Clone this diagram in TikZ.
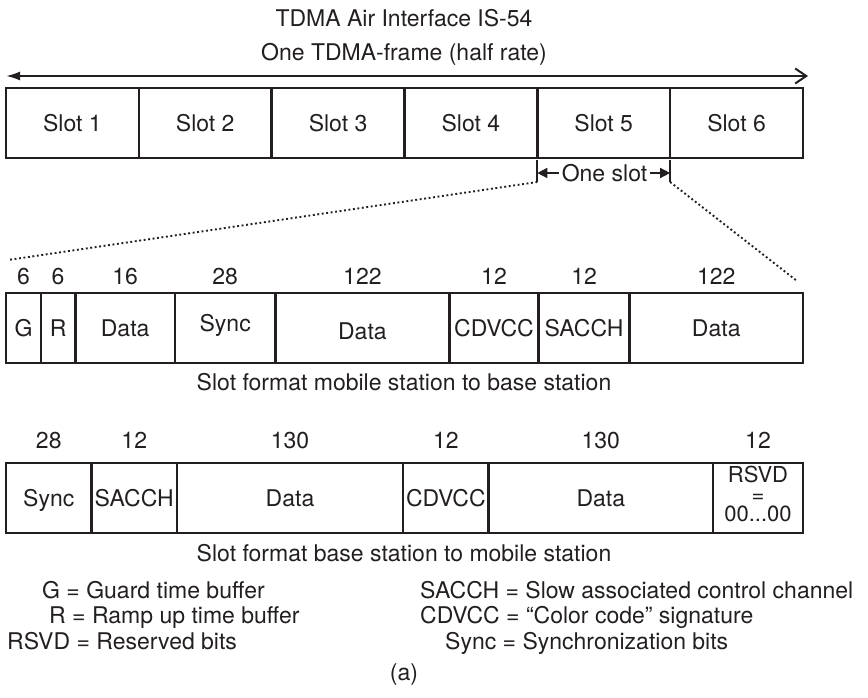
\documentclass[tikz,border=0pt]{standalone}
\usepackage{fontspec}
\setmainfont{TeX Gyre Heros}
\usetikzlibrary{arrows.meta, positioning}
\definecolor{ink}{RGB}{35,31,32}

\begin{document}
\begin{tikzpicture}[x=1pt, y=-1pt, >=Latex,
    every node/.style={font=\fontsize{23}{21.5}\selectfont, text=ink},
    txt/.style={inner sep=0pt, text height=16.5pt, text depth=0pt},
    cell/.style={draw=ink, line width=2.6pt, inner sep=0pt, outer sep=0pt, minimum height=70pt},
    bitbox/.style={cell, txt},
    zoomline/.style={ink, line width=1.9pt, dash pattern=on 1.9pt off 2.6pt}]
    \useasboundingbox (0,0) rectangle (868,698);
    \def\slotw{132.83pt}
    % titles
    \node[txt] (title) at (404,18) {TDMA Air Interface IS-54};
    \node[txt] (framelbl) at (404,52) {One TDMA-frame (half rate)};
    \coordinate (frameL) at (6,76);
    \coordinate (frameR) at (808,76);
    \draw[{Latex[length=14pt,width=9pt]}-{Straight Barb[length=11pt,width=15pt]}, ink, line width=2pt] (frameL) -- (frameR);
    % the six slots of the frame
    \node[bitbox, minimum width=\slotw, anchor=north west] (s1) at (6,88) {Slot 1};
    \node[bitbox, minimum width=\slotw, right=0pt of s1] (s2) {Slot 2};
    \node[bitbox, minimum width=\slotw, right=0pt of s2] (s3) {Slot 3};
    \node[bitbox, minimum width=\slotw, right=0pt of s3] (s4) {Slot 4};
    \node[bitbox, minimum width=\slotw, right=0pt of s4] (s5) {Slot 5};
    \node[bitbox, minimum width=\slotw, right=0pt of s5] (s6) {Slot 6};
    % one slot marker
    \coordinate (tickA) at ([yshift=-24pt]s5.south west);
    \coordinate (tickB) at ([yshift=-24pt]s6.south west);
    \draw[ink, line width=2pt] ([yshift=-2pt]s5.south west) -- (tickA);
    \draw[ink, line width=2pt] ([yshift=-2pt]s6.south west) -- (tickB);
    \node[txt] (oneslot) at (604.5,173) {One slot};
    \draw[-{Triangle[length=10pt,width=10pt]}, ink, line width=1.5pt, shorten <=3pt] (oneslot.west) -- (oneslot.west -| s5.south west);
    \draw[-{Triangle[length=10pt,width=10pt]}, ink, line width=1.5pt, shorten <=3pt] (oneslot.east) -- (oneslot.east -| s6.south west);
    % zoom lines
    \coordinate (zoomL) at (8,260);
    \coordinate (zoomR) at (797,281);
    \draw[zoomline] (tickA) -- (zoomL);
    \draw[zoomline] (tickB) -- (zoomR);
    % mobile station to base station
    \node[bitbox, minimum width=34.9pt, anchor=north west] (ug) at (6,293) {G};
    \node[bitbox, minimum width=34.4pt, right=0pt of ug] (ur) {R};
    \node[bitbox, minimum width=99.7pt, right=0pt of ur] (udata1) {Data};
    \node[bitbox, minimum width=100.4pt, right=0pt of udata1] (usync) {\raisebox{5pt}{Sync}};
    \node[bitbox, minimum width=174pt, right=0pt of usync] (udata2) {\raisebox{-3pt}{Data}\hspace{44pt}};
    \node[bitbox, minimum width=89.2pt, right=0pt of udata2] (ucdvcc) {CDVCC};
    \node[bitbox, minimum width=90.9pt, right=0pt of ucdvcc] (usacch) {SACCH};
    \node[bitbox, minimum width=173.5pt, right=0pt of usacch] (udata3) {Data};
    % bit counts
    \node[txt, above=8pt of ug] (nug) {6};
    \node[txt, above=8pt of ur] (nur) {6};
    \node[txt, above=8pt of udata1] (nudata1) {16};
    \node[txt, above=8pt of usync] (nusync) {28};
    \node[txt, above=8pt of udata2] (nudata2) {122};
    \node[txt, above=8pt of ucdvcc] (nucdvcc) {12};
    \node[txt, above=8pt of usacch] (nusacch) {12};
    \node[txt, above=8pt of udata3] (nudata3) {122};
    \node[txt] (upcap) at (404,382) {Slot format mobile station to base station};
    % base station to mobile station
    \node[bitbox, minimum width=85.5pt, anchor=north west] (dsync) at (6,463) {Sync};
    \node[bitbox, minimum width=85.5pt, right=0pt of dsync] (dsacch) {SACCH};
    \node[bitbox, minimum width=226pt, right=0pt of dsacch] (ddata1) {Data};
    \node[bitbox, minimum width=85.6pt, right=0pt of ddata1] (dcdvcc) {CDVCC};
    \node[bitbox, minimum width=224.4pt, right=0pt of dcdvcc] (ddata2) {Data};
    \node[cell, minimum width=90pt, right=0pt of ddata2] (drsvd) {};
    \node[align=center, inner sep=0pt, font=\fontsize{22}{19.5}\selectfont] (rsvd) at ([yshift=4pt]drsvd.center) {RSVD\\=\\00...00};
    \node[txt, above=14pt of dsync] (ndsync) {28};
    \node[txt, above=14pt of dsacch] (ndsacch) {12};
    \node[txt, above=14pt of ddata1] (nddata1) {130};
    \node[txt, above=14pt of dcdvcc] (ndcdvcc) {12};
    \node[txt, above=14pt of ddata2] (nddata2) {130};
    \node[txt, above=14pt of drsvd] (ndrsvd) {12};
    \node[txt] (downcap) at (404,553) {Slot format base station to mobile station};
    % legend
    \node[txt, anchor=west] (keyg) at (42,590) {G = Guard time buffer};
    \node[txt, anchor=west] (keyr) at (49,615) {R = Ramp up time buffer};
    \node[txt, anchor=west] (keyrsvd) at (7,641) {RSVD = Reserved bits};
    \node[txt, anchor=west] (keysacch) at (420,590) {SACCH = Slow associated control channel};
    \node[txt, anchor=west] (keycdvcc) at (420,615) {CDVCC = ``Color code'' signature};
    \node[txt, anchor=west] (keysync) at (445,641) {Sync = Synchronization bits};
    \node[txt] (sub) at (404,672) {(a)};

\end{tikzpicture}
\end{document}
